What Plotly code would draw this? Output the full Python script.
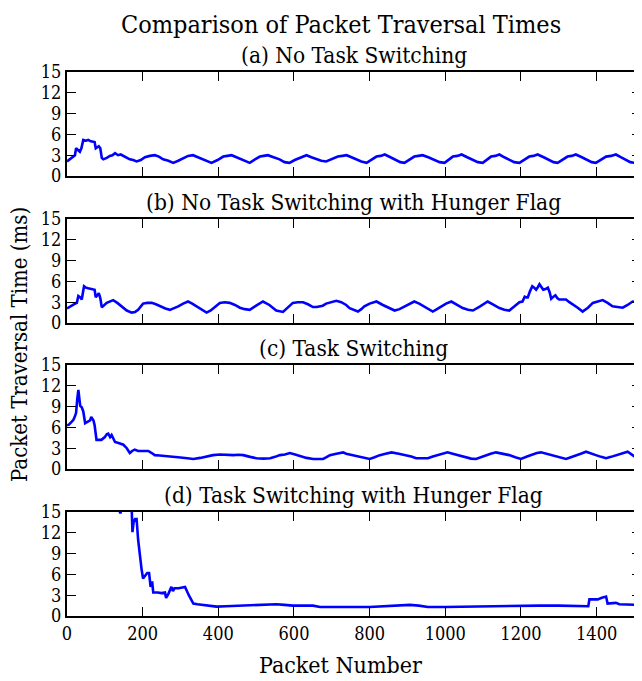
import plotly.graph_objects as go

# ---------------- data ----------------
a_x = [0, 5, 12, 21, 24, 28, 34, 38, 43, 50, 56, 63, 69, 73, 76, 80, 84, 88, 92, 96,
       105, 113, 120, 127, 135, 142, 149, 157, 166, 175, 184, 195, 206, 219, 232, 243, 254, 268, 281, 294,
       307, 320, 333, 347, 360, 371, 382, 398, 413, 424, 435, 448, 461, 472, 483, 497, 510, 520, 531, 546,
       562, 575, 588, 602, 615, 624, 633, 646, 659, 672, 685, 700, 716, 728, 739, 752, 765, 778, 792, 805,
       818, 829, 840, 855, 870, 881, 892, 905, 918, 929, 940, 955, 971, 985, 998, 1009, 1020, 1032, 1043, 1058,
       1073, 1086, 1099, 1110, 1121, 1132, 1143, 1156, 1169, 1182, 1196, 1209, 1222, 1233, 1244, 1260, 1275, 1286, 1297, 1310,
       1323, 1334, 1345, 1361, 1376, 1387, 1398, 1411, 1425, 1438, 1451, 1465, 1478, 1489, 1500, 1508, 1516]
a_y = [2.1, 2.3, 2.6, 3.0, 4.0, 3.8, 3.5, 4.0, 5.2, 5.1, 5.2, 5.0, 4.9, 4.9, 4.0, 4.1, 4.3, 4.0, 2.6, 2.4,
       2.6, 2.9, 3.0, 3.3, 3.0, 3.1, 2.9, 2.6, 2.4, 2.3, 2.1, 2.3, 2.7, 2.9, 3.0, 2.8, 2.4, 2.2, 1.9, 2.2,
       2.6, 2.9, 3.0, 2.7, 2.4, 2.1, 1.9, 2.3, 2.8, 2.9, 3.0, 2.7, 2.4, 2.1, 1.9, 2.4, 2.8, 2.9, 3.0, 2.7,
       2.4, 2.0, 1.9, 2.3, 2.6, 2.9, 3.0, 2.7, 2.4, 2.2, 2.1, 2.4, 2.8, 2.9, 3.0, 2.7, 2.4, 2.1, 1.9, 2.3,
       2.8, 2.9, 3.1, 2.7, 2.3, 2.0, 1.9, 2.3, 2.8, 2.9, 3.0, 2.7, 2.3, 2.0, 1.9, 2.3, 2.8, 2.9, 3.1, 2.7,
       2.3, 2.0, 1.9, 2.3, 2.8, 2.9, 3.1, 2.7, 2.3, 2.0, 1.9, 2.3, 2.8, 2.9, 3.1, 2.7, 2.3, 2.0, 1.9, 2.3,
       2.8, 2.9, 3.1, 2.7, 2.3, 2.0, 1.9, 2.3, 2.8, 2.9, 3.1, 2.7, 2.3, 2.0, 1.9, 2.2, 2.4]

b_x = [0, 8, 18, 26, 30, 35, 39, 45, 50, 56, 65, 73, 76, 80, 84, 88, 92, 105, 113, 122,
       133, 144, 158, 171, 180, 188, 201, 212, 224, 235, 246, 260, 272, 283, 294, 307, 320, 331, 342, 356,
       369, 380, 392, 404, 417, 430, 444, 457, 470, 483, 500, 518, 535, 553, 571, 584, 597, 610, 624, 637,
       650, 660, 668, 676, 685, 699, 712, 725, 738, 747, 756, 769, 778, 786, 800, 818, 835, 850, 866, 879,
       892, 905, 918, 931, 945, 956, 967, 978, 989, 1002, 1016, 1031, 1046, 1060, 1073, 1092, 1112, 1128, 1143, 1156,
       1169, 1183, 1196, 1204, 1210, 1215, 1218, 1224, 1230, 1235, 1240, 1245, 1249, 1254, 1259, 1265, 1271, 1276, 1280, 1286,
       1291, 1296, 1301, 1310, 1319, 1328, 1337, 1350, 1363, 1377, 1390, 1403, 1416, 1429, 1442, 1455, 1469, 1482, 1495, 1505, 1516]
b_y = [2.1, 2.4, 2.7, 2.9, 3.9, 3.7, 3.4, 5.3, 5.1, 5.0, 4.9, 4.8, 3.7, 4.0, 4.3, 3.6, 2.25, 2.9, 3.1, 3.3,
       2.9, 2.4, 1.8, 1.5, 1.6, 1.9, 2.8, 2.9, 2.9, 2.7, 2.4, 2.1, 1.9, 2.1, 2.4, 2.8, 3.1, 2.8, 2.4, 1.9,
       1.5, 1.8, 2.4, 2.9, 3.0, 2.9, 2.6, 2.2, 2.0, 1.9, 2.5, 3.1, 2.6, 1.8, 1.6, 2.2, 2.9, 3.0, 3.0, 2.7,
       2.3, 2.3, 2.4, 2.5, 2.8, 3.0, 3.2, 3.0, 2.6, 2.15, 1.9, 1.65, 2.0, 2.4, 2.8, 3.1, 2.6, 2.2, 1.8, 2.0,
       2.4, 2.8, 3.1, 2.8, 2.4, 2.0, 1.65, 2.0, 2.4, 2.8, 3.1, 2.6, 2.15, 1.9, 1.8, 2.4, 3.1, 2.6, 2.15, 1.9,
       1.8, 2.4, 3.0, 3.1, 3.8, 3.7, 3.7, 4.6, 5.3, 5.1, 4.8, 5.2, 5.6, 5.2, 4.8, 4.9, 5.1, 4.4, 3.5, 3.8,
       4.0, 3.6, 3.4, 3.4, 3.4, 3.0, 2.7, 2.2, 1.65, 2.2, 2.9, 3.1, 3.3, 2.9, 2.4, 2.3, 2.2, 2.6, 3.1, 3.0, 3.1]

c_x = [0, 5, 12, 17, 21, 24, 27, 30, 33, 35, 39, 43, 48, 54, 61, 64, 67, 70, 73, 76,
       78, 84, 91, 100, 105, 109, 114, 118, 122, 127, 138, 149, 158, 166, 172, 179, 188, 197, 206, 215,
       224, 232, 245, 258, 270, 281, 300, 318, 334, 352, 369, 386, 404, 422, 440, 453, 466, 484, 501, 519,
       537, 550, 563, 576, 589, 603, 616, 633, 651, 664, 677, 686, 695, 712, 721, 730, 738, 756, 778, 800,
       813, 827, 842, 858, 877, 897, 910, 923, 938, 954, 967, 980, 993, 1006, 1017, 1028, 1041, 1055, 1068, 1081,
       1094, 1107, 1120, 1134, 1151, 1169, 1185, 1200, 1216, 1231, 1242, 1253, 1268, 1284, 1302, 1319, 1332, 1345, 1358, 1372,
       1385, 1398, 1412, 1425, 1438, 1451, 1466, 1482, 1495, 1506, 1516]
c_y = [6.3, 6.4, 6.8, 7.1, 7.6, 8.1, 10.0, 11.4, 10.0, 9.1, 8.9, 8.3, 6.6, 6.8, 7.0, 7.5, 7.3, 7.0, 6.3, 5.0,
       4.2, 4.2, 4.2, 4.6, 5.0, 5.1, 4.6, 4.9, 4.4, 3.9, 3.7, 3.5, 3.0, 2.3, 2.6, 2.8, 2.6, 2.6, 2.5, 2.6,
       2.3, 2.0, 1.95, 1.9, 1.85, 1.8, 1.65, 1.55, 1.45, 1.6, 1.8, 2.0, 2.1, 2.0, 2.0, 2.05, 2.0, 1.75, 1.55, 1.5,
       1.55, 1.75, 2.0, 2.1, 2.3, 2.1, 1.9, 1.6, 1.45, 1.45, 1.45, 1.7, 2.0, 2.2, 2.26, 2.4, 2.2, 2.0, 1.7, 1.45,
       1.7, 2.0, 2.2, 2.4, 2.2, 2.0, 1.8, 1.55, 1.5, 1.55, 1.8, 2.0, 2.2, 2.4, 2.25, 2.1, 1.9, 1.65, 1.5, 1.45,
       1.7, 2.0, 2.2, 2.4, 2.2, 2.0, 1.7, 1.45, 1.8, 2.1, 2.3, 2.4, 2.2, 2.0, 1.7, 1.45, 1.7, 2.0, 2.2, 2.5,
       2.2, 2.0, 1.75, 1.55, 1.75, 2.0, 2.2, 2.5, 2.0, 1.6, 1.2]

d_x = [0, 40, 80, 120, 138, 141, 144, 160, 168, 171, 173, 176, 180, 184, 188, 193, 197, 201, 206, 212,
       217, 221, 225, 228, 240, 250, 259, 262, 268, 276, 280, 284, 295, 305, 312, 322, 334, 345, 360, 378,
       395, 420, 450, 483, 520, 553, 575, 597, 630, 650, 669, 720, 773, 800, 850, 880, 906, 930, 954, 1000,
       1050, 1117, 1180, 1250, 1300, 1355, 1378, 1381, 1403, 1412, 1425, 1429, 1451, 1460, 1480, 1500, 1516]
d_y = [22.0, 25.0, 21.0, 18.0, 15.3, 14.8, 15.3, 17.0, 16.5, 15.5, 12.1, 13.5, 14.0, 14.0, 11.0, 8.1, 6.8, 5.4, 5.8, 6.2,
       6.2, 4.2, 5.0, 3.4, 3.4, 3.3, 3.4, 2.6, 3.2, 4.2, 3.6, 4.0, 4.0, 4.1, 4.2, 3.0, 1.8, 1.7, 1.6, 1.45,
       1.35, 1.4, 1.45, 1.6, 1.65, 1.7, 1.6, 1.5, 1.5, 1.5, 1.3, 1.35, 1.3, 1.3, 1.45, 1.5, 1.6, 1.5, 1.3, 1.3,
       1.35, 1.45, 1.5, 1.5, 1.5, 1.5, 1.4, 2.4, 2.4, 2.6, 2.8, 1.8, 1.9, 1.7, 1.65, 1.6, 1.6]

panel_titles = ["(a) No Task Switching",
                "(b) No Task Switching with Hunger Flag",
                "(c) Task Switching",
                "(d) Task Switching with Hunger Flag"]
x_ticks = [0, 200, 400, 600, 800, 1000, 1200, 1400]
y_ticks = [0, 3, 6, 9, 12, 15]
main_title = "Comparison of Packet Traversal Times"
x_label = "Packet Number"
y_label = "Packet Traversal Time (ms)"

# ---------------- layout ----------------
OFF = 8                      # page body margin in the browser
W, H = 642 - OFF, 681 - OFF
FONT = "DejaVu Serif Condensed, DejaVu Serif, serif"
boxes = [(72, 176), (219, 323), (365, 469), (512, 616)]   # reference pixel rows
left_px, right_px = 67, 640.5


def px(x):
    return (x - OFF) / W


def py(y):
    return 1 - (y - OFF) / H


series = [(a_x, a_y), (b_x, b_y), (c_x, c_y), (d_x, d_y)]

fig = go.Figure()
layout = dict(
    template="none",
    width=W, height=H,
    margin=dict(l=0, r=0, t=0, b=0, pad=0),
    paper_bgcolor="white", plot_bgcolor="white",
    showlegend=False,
    font=dict(family=FONT, color="black", size=18),
)
annotations = []
for i, ((sx, sy), (top, bot)) in enumerate(zip(series, boxes)):
    n = "" if i == 0 else str(i + 1)
    fig.add_trace(go.Scatter(x=sx, y=sy, mode="lines",
                             line=dict(color="#0000ff", width=2.6),
                             xaxis="x" + n, yaxis="y" + n))
    layout["xaxis" + n] = dict(
        domain=[px(left_px), px(right_px)], range=[0, 1516],
        anchor="y" + n, tickvals=x_ticks, automargin=False,
        showticklabels=(i == 3),
        ticks="inside", ticklen=9, tickwidth=1.3, tickcolor="black",
        showline=True, linewidth=2, linecolor="black", mirror="ticks",
        showgrid=False, zeroline=False,
        tickfont=dict(family=FONT, size=18),
    )
    layout["yaxis" + n] = dict(
        domain=[py(bot), py(top)], range=[0, 15], anchor="x" + n, tickvals=y_ticks,
        automargin=False,
        ticks="inside", ticklen=9, tickwidth=1.3, tickcolor="black",
        showline=True, linewidth=2, linecolor="black", mirror="ticks",
        showgrid=False, zeroline=False,
        tickfont=dict(family=FONT, size=18),
    )
    annotations.append(dict(
        text=panel_titles[i], x=px((left_px + right_px) / 2), y=py(top),
        xref="paper", yref="paper", xanchor="center", yanchor="bottom",
        yshift=2, showarrow=False, font=dict(family=FONT, size=22.5),
    ))

annotations.append(dict(text=main_title, x=px(341), y=1, xref="paper", yref="paper",
                        xanchor="center", yanchor="top", showarrow=False,
                        font=dict(family=FONT, size=25)))
annotations.append(dict(text=x_label, x=px(340), y=py(665), xref="paper", yref="paper",
                        xanchor="center", yanchor="middle", showarrow=False,
                        font=dict(family=FONT, size=23)))
annotations.append(dict(text=y_label, x=px(19), y=py(345), xref="paper", yref="paper",
                        xanchor="center", yanchor="middle", showarrow=False, textangle=-90,
                        font=dict(family=FONT, size=22)))
layout["annotations"] = annotations
fig.update_layout(**layout)
fig.write_html("out.html")
